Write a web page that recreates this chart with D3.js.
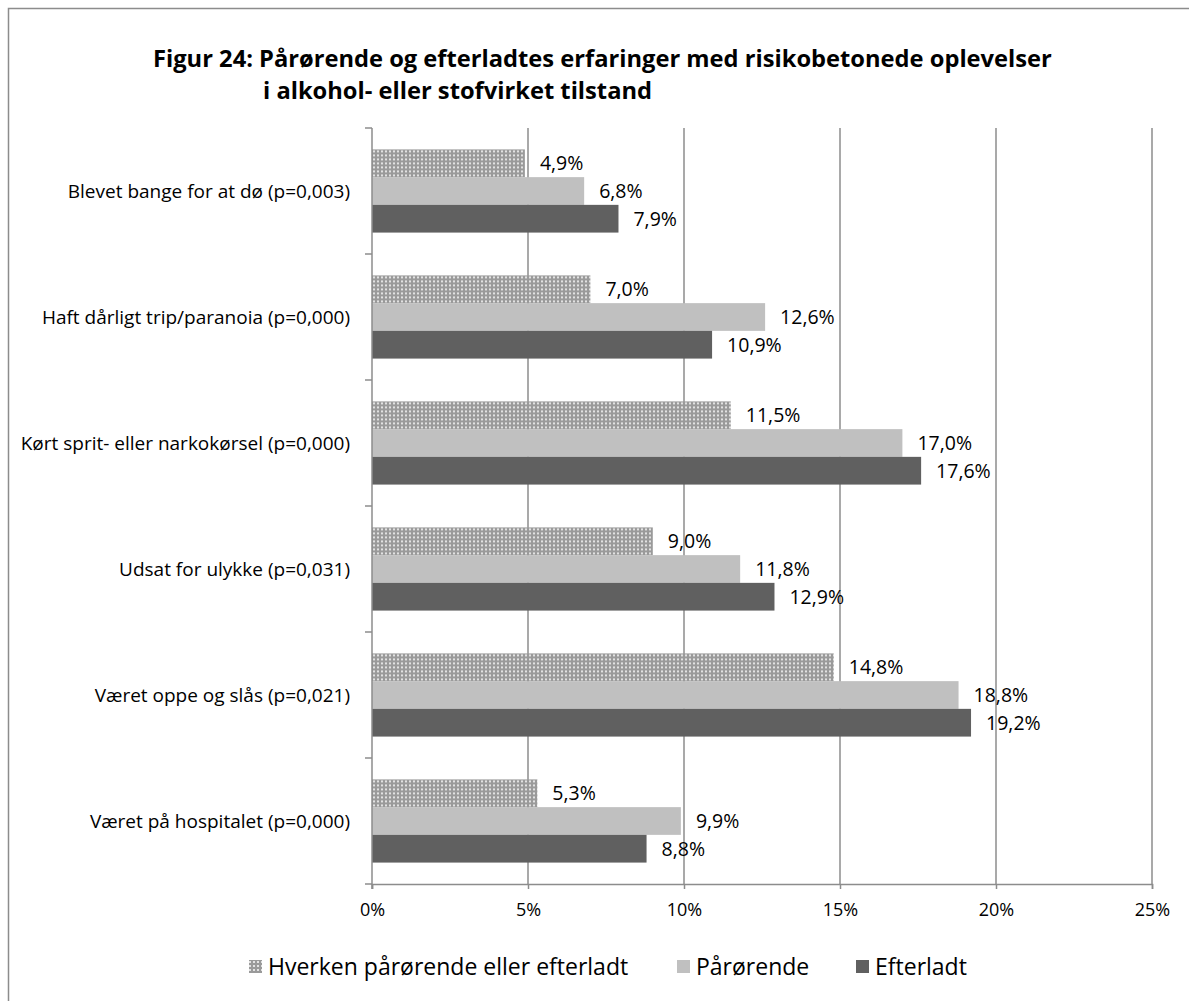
<!DOCTYPE html>
<html>
<head>
<meta charset="utf-8">
<script src="https://cdn.jsdelivr.net/npm/d3@7"></script>
<style>
  html, body { margin: 0; padding: 0; background: #fff; }
  svg { display: block; font-family: "Open Sans", Lato, sans-serif; }
</style>
</head>
<body>
<svg id="chart" width="1189" height="1001"></svg>
<script>
// Categories (top to bottom) and the three respondent groups
const categories = [
  "Blevet bange for at dø (p=0,003)",
  "Haft dårligt trip/paranoia (p=0,000)",
  "Kørt sprit- eller narkokørsel (p=0,000)",
  "Udsat for ulykke (p=0,031)",
  "Været oppe og slås (p=0,021)",
  "Været på hospitalet (p=0,000)"
];
const seriesNames = ["Hverken pårørende eller efterladt", "Pårørende", "Efterladt"];
const hverken   = [4.9, 7.0, 11.5, 9.0, 14.8, 5.3];
const paarorende = [6.8, 12.6, 17.0, 11.8, 18.8, 9.9];
const efterladt = [7.9, 10.9, 17.6, 12.9, 19.2, 8.8];
const xTicks = [0, 5, 10, 15, 20, 25];

const seriesValues = [hverken, paarorende, efterladt];
const fills = ["url(#dots)", "#c0c0c0", "#606060"];
const fmt = v => d3.format(".1f")(v).replace(".", ",") + "%";

const svg = d3.select("#chart");

// Dotted fill for the first group
const defs = svg.append("defs");
const pat = defs.append("pattern")
  .attr("id", "dots").attr("patternUnits", "userSpaceOnUse")
  .attr("width", 4).attr("height", 4);
pat.append("rect").attr("width", 4).attr("height", 4).attr("fill", "#9a9a9a");
pat.append("rect").attr("x", 1).attr("y", 1).attr("width", 2).attr("height", 2).attr("fill", "#e2e2e2");

// Outer frame
svg.append("rect")
  .attr("x", 8.5).attr("y", 8.5).attr("width", 1200).attr("height", 1010)
  .attr("fill", "none").attr("stroke", "#8c8c8c").attr("stroke-width", 1.5);

// Title
const title = svg.append("text")
  .attr("font-weight", "bold").attr("font-size", 23.7).attr("fill", "#000");
title.append("tspan").attr("x", 153).attr("y", 67)
  .text("Figur 24: Pårørende og efterladtes erfaringer med risikobetonede oplevelser");
title.append("tspan").attr("x", 263).attr("y", 99)
  .text("i alkohol- eller stofvirket tilstand");

const plotLeft = 372, plotRight = 1152, plotTop = 128, plotBottom = 884;

const x = d3.scaleLinear().domain([0, 25]).range([plotLeft, plotRight]);
const y = d3.scaleBand().domain(categories).range([plotTop, plotBottom])
  .paddingInner(0.34).paddingOuter(0.17);
const ySub = d3.scaleBand().domain(d3.range(seriesNames.length)).range([0, y.bandwidth()]);

// Vertical gridlines
svg.append("g").selectAll("line").data(xTicks.filter(t => t > 0)).join("line")
  .attr("x1", d => x(d)).attr("x2", d => x(d))
  .attr("y1", plotTop).attr("y2", plotBottom)
  .attr("stroke", "#8c8c8c").attr("stroke-width", 1.5);

// Bars and value labels
categories.forEach((cat, ci) => {
  const g = svg.append("g").attr("transform", `translate(0,${y(cat)})`);
  seriesValues.forEach((vals, si) => {
    g.append("rect")
      .attr("x", x(0)).attr("y", ySub(si))
      .attr("width", x(vals[ci]) - x(0)).attr("height", ySub.bandwidth())
      .attr("fill", fills[si]);
    g.append("text")
      .attr("x", x(vals[ci]) + 15).attr("y", ySub(si) + ySub.bandwidth() / 2)
      .attr("dy", "0.36em").attr("font-size", 19.5).attr("fill", "#000")
      .text(fmt(vals[ci]));
  });
});

// X axis
const xAxis = d3.axisBottom(x).tickValues(xTicks).tickFormat(d => d + "%").tickSize(5).tickPadding(14);
const gx = svg.append("g").attr("transform", `translate(0,${plotBottom})`).call(xAxis);
gx.select(".domain").attr("stroke", "#8c8c8c").attr("stroke-width", 1.5);
gx.selectAll(".tick line").attr("stroke", "#8c8c8c").attr("stroke-width", 1.5);
gx.selectAll(".tick text").attr("font-size", 18).attr("font-family", "'Open Sans', sans-serif").attr("fill", "#000");

// Y axis with ticks between categories
const boundaries = d3.range(categories.length + 1).map(i => plotTop + i * (plotBottom - plotTop) / categories.length);
const gy = svg.append("g");
gy.append("line").attr("x1", plotLeft).attr("x2", plotLeft).attr("y1", plotTop).attr("y2", plotBottom + 5)
  .attr("stroke", "#8c8c8c").attr("stroke-width", 1.5);
gy.selectAll("line.t").data(boundaries).join("line").attr("class", "t")
  .attr("x1", plotLeft - 7).attr("x2", plotLeft).attr("y1", d => d).attr("y2", d => d)
  .attr("stroke", "#8c8c8c").attr("stroke-width", 1.5);
gy.selectAll("text").data(categories).join("text")
  .attr("x", 350).attr("y", d => y(d) + y.bandwidth() / 2)
  .attr("dy", "0.36em").attr("text-anchor", "end")
  .attr("font-size", 19).attr("fill", "#000")
  .text(d => d);

// Legend
const legendItems = [
  { name: seriesNames[0], fill: fills[0], sx: 249 },
  { name: seriesNames[1], fill: fills[1], sx: 677 },
  { name: seriesNames[2], fill: fills[2], sx: 856 }
];
const lg = svg.append("g");
legendItems.forEach(it => {
  lg.append("rect").attr("x", it.sx).attr("y", 960).attr("width", 13).attr("height", 13).attr("fill", it.fill);
  lg.append("text").attr("x", it.sx + 19).attr("y", 967).attr("dy", "0.36em")
    .attr("font-size", 23).attr("fill", "#000").text(it.name);
});
</script>
</body>
</html>
